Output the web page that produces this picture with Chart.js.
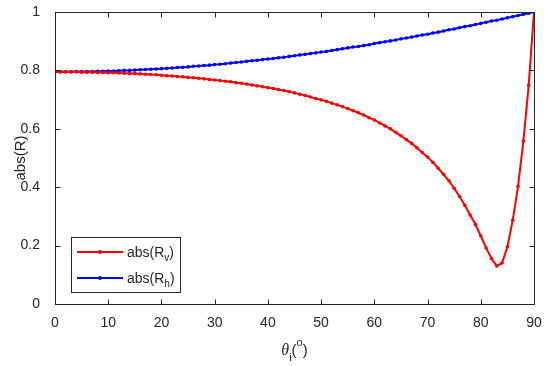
<!DOCTYPE html>
<html>
<head>
<meta charset="utf-8">
<script src="https://cdn.jsdelivr.net/npm/chart.js@4/dist/chart.umd.min.js"></script>
<style>
  html, body { margin: 0; padding: 0; background: #fff; }
  canvas { display: block; }
</style>
</head>
<body>
<canvas id="c" width="550" height="366"></canvas>
<script>
// incidence angle (deg)
const angles = [0,1,2,3,4,5,6,7,8,9,10,11,12,13,14,15,16,17,18,19,20,21,22,23,24,25,26,27,28,29,30,
  31,32,33,34,35,36,37,38,39,40,41,42,43,44,45,46,47,48,49,50,51,52,53,54,55,56,57,58,59,60,
  61,62,63,64,65,66,67,68,69,70,71,72,73,74,75,76,77,78,79,80,81,82,83,84,85,86,87,88,89,90];

const absRv = [0.795,0.795,0.795,0.795,0.795,0.794,0.794,0.794,0.793,0.793,0.792,0.792,0.791,0.790,0.789,0.789,
  0.788,0.787,0.786,0.785,0.783,0.782,0.781,0.779,0.778,0.776,0.775,0.773,0.771,0.769,0.767,
  0.765,0.763,0.761,0.758,0.756,0.753,0.750,0.747,0.744,0.741,0.738,0.734,0.731,0.727,0.723,
  0.718,0.714,0.709,0.704,0.699,0.694,0.688,0.682,0.676,0.669,0.662,0.655,0.647,0.638,0.630,
  0.620,0.610,0.600,0.588,0.576,0.563,0.550,0.535,0.519,0.503,0.485,0.465,0.444,0.422,0.396,
  0.368,0.338,0.305,0.272,0.233,0.192,0.156,0.130,0.141,0.196,0.287,0.403,0.558,0.749,1.000];

const absRh = [0.795,0.795,0.795,0.795,0.796,0.796,0.796,0.796,0.797,0.797,0.798,0.798,0.799,0.800,0.800,0.801,
  0.802,0.803,0.804,0.805,0.806,0.807,0.808,0.810,0.811,0.812,0.814,0.815,0.817,0.818,0.820,
  0.821,0.823,0.825,0.827,0.829,0.831,0.833,0.835,0.837,0.839,0.841,0.843,0.845,0.848,0.850,
  0.853,0.855,0.858,0.860,0.863,0.865,0.868,0.871,0.874,0.877,0.880,0.882,0.885,0.888,0.892,
  0.895,0.898,0.901,0.904,0.908,0.911,0.914,0.918,0.921,0.924,0.928,0.931,0.935,0.939,0.942,
  0.946,0.950,0.953,0.957,0.961,0.965,0.969,0.972,0.976,0.980,0.984,0.988,0.992,0.996,1.000];

const xTicks = [0,10,20,30,40,50,60,70,80,90];
const yTicks = [0,0.2,0.4,0.6,0.8,1];

const INK = '#262626';
const SANS = '"Liberation Sans", Arial, Helvetica, sans-serif';
const SERIF = '"Liberation Serif", "Times New Roman", serif';

function pts(ys) { return angles.map((a, i) => ({ x: a, y: ys[i] })); }

// box + inward ticks on all four sides, MATLAB style
const framePlugin = {
  id: 'frame',
  afterDatasetsDraw(chart) {
    const { ctx, chartArea: a, scales: { x, y } } = chart;
    const L = Math.round(a.left) + 0.5, R = Math.round(a.right) + 0.5;
    const T = Math.round(a.top) + 0.5, B = Math.round(a.bottom) + 0.5;
    ctx.save();
    ctx.strokeStyle = INK;
    ctx.lineWidth = 1;
    ctx.strokeRect(L, T, R - L, B - T);
    ctx.beginPath();
    xTicks.forEach(v => {
      const px = Math.round(x.getPixelForValue(v)) + 0.5;
      ctx.moveTo(px, B); ctx.lineTo(px, B - 5);
      ctx.moveTo(px, T); ctx.lineTo(px, T + 5);
    });
    yTicks.forEach(v => {
      const py = Math.round(y.getPixelForValue(v)) + 0.5;
      ctx.moveTo(L, py); ctx.lineTo(L + 5, py);
      ctx.moveTo(R, py); ctx.lineTo(R - 5, py);
    });
    ctx.stroke();
    ctx.restore();
  }
};

// axis titles with sub/superscripts
const titlePlugin = {
  id: 'titles',
  afterDraw(chart) {
    const { ctx, chartArea: a } = chart;
    ctx.save();
    ctx.fillStyle = INK;
    ctx.textBaseline = 'alphabetic';

    // y title
    ctx.save();
    ctx.translate(25, (a.top + a.bottom) / 2);
    ctx.rotate(-Math.PI / 2);
    ctx.font = '15px ' + SANS;
    ctx.textAlign = 'center';
    ctx.fillText('abs(R)', 0, 0);
    ctx.restore();

    // x title: θ_i(^o)
    const parts = [
      { t: '\u03b8', f: 'italic 16px ' + SERIF, dy: 0 },
      { t: 'i', f: '11px ' + SANS, dy: 6 },
      { t: '(', f: '15px ' + SANS, dy: 0 },
      { t: 'o', f: '11px ' + SANS, dy: -9 },
      { t: ')', f: '15px ' + SANS, dy: 0 }
    ];
    let w = 0;
    parts.forEach(p => { ctx.font = p.f; p.w = ctx.measureText(p.t).width; w += p.w; });
    let cx = (a.left + a.right) / 2 - w / 2;
    const base = 355;
    ctx.textAlign = 'left';
    parts.forEach(p => { ctx.font = p.f; ctx.fillText(p.t, cx, base + p.dy); cx += p.w; });
    ctx.restore();
  }
};

// legend box, lower left
const legendPlugin = {
  id: 'mlegend',
  afterDraw(chart) {
    const { ctx } = chart;
    const items = [
      { color: '#ff0000', sub: 'v', y: 252 },
      { color: '#0000ff', sub: 'h', y: 278 }
    ];
    ctx.save();
    ctx.fillStyle = '#fff';
    ctx.fillRect(71.5, 237.5, 109, 55);
    ctx.strokeStyle = INK;
    ctx.lineWidth = 1;
    ctx.strokeRect(71.5, 237.5, 109, 55);
    items.forEach(it => {
      ctx.strokeStyle = it.color;
      ctx.lineWidth = 2;
      ctx.beginPath();
      ctx.moveTo(77, it.y); ctx.lineTo(123, it.y);
      ctx.stroke();
      ctx.fillStyle = it.color;
      ctx.beginPath();
      ctx.arc(100, it.y, 2, 0, Math.PI * 2);
      ctx.fill();
      ctx.fillStyle = INK;
      ctx.textBaseline = 'alphabetic';
      ctx.textAlign = 'left';
      let x0 = 127;
      const base = it.y + 5;
      ctx.font = '14px ' + SANS;
      ctx.fillText('abs(R', x0, base); x0 += ctx.measureText('abs(R').width;
      ctx.font = '10px ' + SANS;
      ctx.fillText(it.sub, x0, base + 4); x0 += ctx.measureText(it.sub).width;
      ctx.font = '14px ' + SANS;
      ctx.fillText(')', x0, base);
    });
    ctx.restore();
  }
};

new Chart(document.getElementById('c'), {
  type: 'line',
  data: {
    datasets: [
      { label: 'abs(Rv)', data: pts(absRv), borderColor: '#ff0000', backgroundColor: '#ff0000',
        borderWidth: 2, pointRadius: 1.8, pointBorderWidth: 0, tension: 0 },
      { label: 'abs(Rh)', data: pts(absRh), borderColor: '#0000ff', backgroundColor: '#0000ff',
        borderWidth: 2, pointRadius: 1.8, pointBorderWidth: 0, tension: 0 }
    ]
  },
  options: {
    responsive: false,
    devicePixelRatio: 1,
    animation: false,
    layout: { padding: { left: 0, right: 16, top: 12, bottom: 0 } },
    plugins: { legend: { display: false }, tooltip: { enabled: false } },
    scales: {
      x: {
        type: 'linear', min: 0, max: 90,
        afterBuildTicks: s => { s.ticks = xTicks.map(v => ({ value: v })); },
        afterFit: s => { s.height = 62; s.paddingLeft = 0; s.paddingRight = 0; },
        grid: { display: false }, border: { display: false },
        ticks: { color: INK, font: { size: 14, family: SANS }, padding: 3, maxRotation: 0,
          callback: v => String(v) }
      },
      y: {
        type: 'linear', min: 0, max: 1,
        afterBuildTicks: s => { s.ticks = yTicks.map(v => ({ value: v })); },
        afterFit: s => { s.width = 55; s.paddingTop = 0; s.paddingBottom = 0; },
        grid: { display: false }, border: { display: false },
        ticks: { color: INK, font: { size: 14, family: SANS }, padding: 7,
          callback: v => String(Number(v.toFixed(1))) }
      }
    }
  },
  plugins: [framePlugin, titlePlugin, legendPlugin]
});
</script>
</body>
</html>
